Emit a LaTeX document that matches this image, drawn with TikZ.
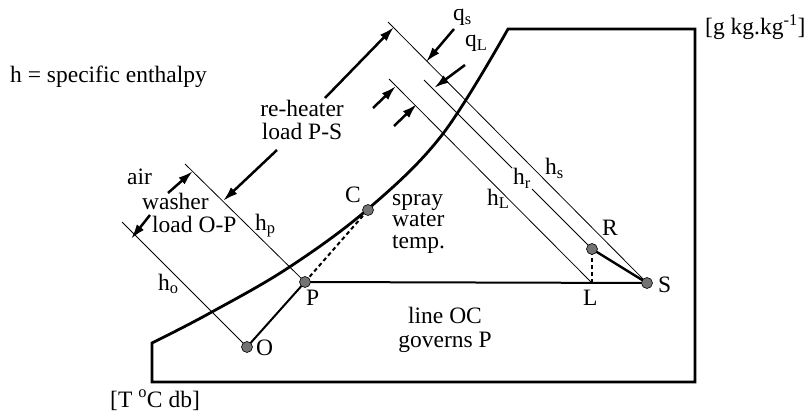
\documentclass[tikz,border=0pt]{standalone}
\usepackage{fontspec}
\setmainfont{Liberation Serif}
\usetikzlibrary{arrows.meta}
\begin{document}
\begin{tikzpicture}[x=1pt,y=-1pt,
  lbl/.style={inner sep=0pt, anchor=base west, font=\fontsize{23.5}{26}\selectfont},
  frame/.style={line width=2.8pt, line join=miter},
  hline/.style={line width=0.8pt},
  proc/.style={line width=2pt},
  dashline/.style={line width=2pt, dash pattern=on 4pt off 3pt},
  arr/.style={line width=2.5pt, -{Latex[length=15pt,width=9pt]}},
  pt/.style={circle, draw=black, line width=0.6pt, fill=black!55, minimum size=11pt, inner sep=0pt}]
\useasboundingbox (0,0) rectangle (808,414);
% state points
\coordinate (O) at (247,347);
\coordinate (P) at (305,282);
\coordinate (C) at (368,210);
\coordinate (L) at (592,283);
\coordinate (R) at (592,249);
\coordinate (S) at (647,283);
% frame and saturation curve
\draw[frame] (158,340) -- plot[smooth, tension=0.6] coordinates {(158,340) (210,313) (288,268) (368,209) (442,135) (508,29)}
  -- (695,29) -- (695,382) -- (152,382) -- (152,343) -- cycle;
% enthalpy lines
\coordinate (ho0) at (122,222);
\coordinate (hp0) at (185,164);
\coordinate (hL0) at (389,79);
\coordinate (hr0) at (424,80);
\coordinate (hr1) at (512,168);
\coordinate (hr2) at (532,189);
\coordinate (hs0) at (388,22);
\draw[hline] (ho0) -- (O);
\draw[hline] (hp0) -- (P);
\draw[hline] (hL0) -- (L);
\draw[hline] (hr0) -- (hr1);
\draw[hline] (hr2) -- (R);
\draw[hline] (hs0) -- (S);
% process lines
\draw[proc] (O) -- (P);
\draw[proc] (P) -- (S);
\draw[proc, line width=2.4pt] (R) -- (S);
\draw[dashline] (P) -- (C);
\draw[dashline] (L) -- (R);
% points
\node[pt] (dO) at (O) {};
\node[pt] (dP) at (P) {};
\node[pt] (dC) at (C) {};
\node[pt] (dR) at (R) {};
\node[pt] (dS) at (S) {};
% arrows
\coordinate (a1s) at (325,98);  \coordinate (a1e) at (394,27);
\coordinate (a2s) at (277,150); \coordinate (a2e) at (223,201);
\coordinate (a3s) at (168,193); \coordinate (a3e) at (193,171);
\coordinate (a4s) at (150,215); \coordinate (a4e) at (131,239);
\coordinate (a5s) at (454,29);  \coordinate (a5e) at (426,62);
\coordinate (a6s) at (465,65);  \coordinate (a6e) at (434,88);
\coordinate (a7s) at (373,108); \coordinate (a7e) at (396,86);
\coordinate (a8s) at (394,126); \coordinate (a8e) at (417,104);
\draw[arr] (a1s) -- (a1e);
\draw[arr] (a2s) -- (a2e);
\draw[arr] (a3s) -- (a3e);
\draw[arr] (a4s) -- (a4e);
\draw[arr] (a5s) -- (a5e);
\draw[arr] (a6s) -- (a6e);
\draw[arr] (a7s) -- (a7e);
\draw[arr] (a8s) -- (a8e);
% labels
\node[lbl] (hdef) at (10,83) {h = specific enthalpy};
\node[lbl, anchor=base] (rh1) at (302,117) {re-heater};
\node[lbl, anchor=base] (rh2) at (302,140) {load P-S};
\node[lbl] (aw1) at (127,185) {air};
\node[lbl] (aw2) at (142,209) {washer};
\node[lbl] (aw3) at (152,232) {load O-P};
\node[lbl, anchor=north west, align=left, font=\fontsize{23.5}{21.5}\selectfont] (spray) at (392,194) {spray\\water\\temp.};
\node[lbl, anchor=base] (oc1) at (445,323) {line OC};
\node[lbl, anchor=base] (oc2) at (445,347) {governs P};
\node[lbl] (yax) at (705,35) {[g kg.kg\textsuperscript{-1}]};
\node[lbl] (xax) at (110,407) {[T \textsuperscript{o}C db]};
\node[lbl] (lC) at (345,203) {C};
\node[lbl] (lO) at (256,355) {O};
\node[lbl] (lP) at (306,305) {P};
\node[lbl] (lL) at (583,305) {L};
\node[lbl] (lR) at (602,235) {R};
\node[lbl] (lS) at (658,292) {S};
\node[lbl] (tho) at (158,290) {h\textsubscript{o}};
\node[lbl] (thp) at (255,230) {h\textsubscript{p}};
\node[lbl] (thL) at (487,205) {h\textsubscript{L}};
\node[lbl] (thr) at (513,185) {h\textsubscript{r}};
\node[lbl] (ths) at (545,175) {h\textsubscript{s}};
\node[lbl] (tqs) at (453,21) {q\textsubscript{s}};
\node[lbl] (tqL) at (465,47) {q\textsubscript{L}};
\end{tikzpicture}
\end{document}
